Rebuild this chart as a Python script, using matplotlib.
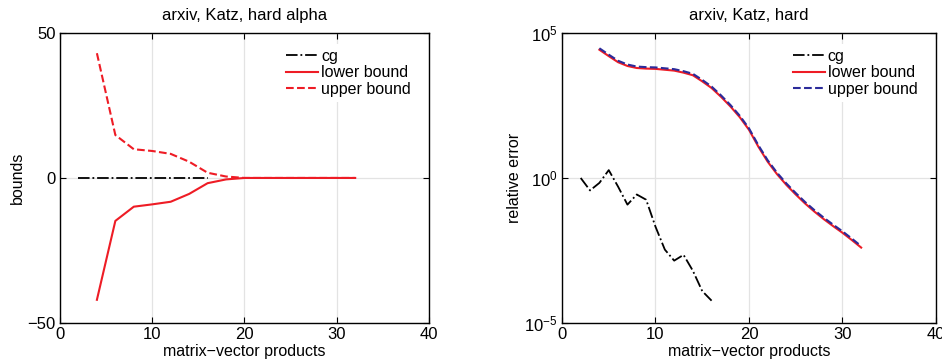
import numpy as np
import matplotlib
matplotlib.use("Agg")
import matplotlib.pyplot as plt

plt.rcParams["font.family"] = ["Liberation Sans", "DejaVu Sans"]
plt.rcParams["font.size"] = 11.5

# left panel: bounds
cg_x_left = list(range(2, 17))
cg_left = [0.0] * len(cg_x_left)
bound_x_left = list(range(4, 33, 2))
lower_left = [-42, -14.8, -9.9, -9.1, -8.2, -5.5, -1.8, -0.5, 0, 0, 0, 0, 0, 0, 0]
upper_left = [43, 14.8, 9.9, 9.3, 8.3, 5.6, 1.8, 0.5, 0, 0, 0, 0, 0, 0, 0]

# right panel: relative error (log10 values)
cg_x_right = list(range(2, 17))
cg_log = [0.0, -0.43, -0.17, 0.27, -0.3, -0.92, -0.57, -0.75, -1.68, -2.47,
          -2.85, -2.65, -3.2, -3.9, -4.23]
bound_x_right = list(range(4, 33))
lower_log = [4.42, 4.2, 3.99, 3.86, 3.79, 3.77, 3.76, 3.73, 3.70, 3.63, 3.54,
             3.33, 3.10, 2.80, 2.47, 2.10, 1.66, 1.08, 0.56, 0.13, -0.24,
             -0.57, -0.88, -1.16, -1.42, -1.66, -1.89, -2.14, -2.40]
upper_offset = 0.05

fig = plt.figure(figsize=(9.42, 3.64), dpi=100)
ax1 = fig.add_axes([0.0637, 0.1126, 0.3917, 0.797])
ax2 = fig.add_axes([0.5966, 0.1126, 0.397, 0.797])

grid_kw = dict(color="#e3e3e3", linewidth=0.9, linestyle="-")

ax1.plot(cg_x_left, cg_left, color="black", linestyle="-.", linewidth=1.3, label="cg")
ax1.plot(bound_x_left, lower_left, color="#ee1c25", linestyle="-", linewidth=1.5, label="lower bound")
ax1.plot(bound_x_left, upper_left, color="#ee1c25", linestyle="--", linewidth=1.5, label="upper bound")
ax1.set_xlim(0, 40)
ax1.set_ylim(-50, 50)
ax1.set_xticks([0, 10, 20, 30, 40])
ax1.set_yticks([-50, 0, 50])
ax1.set_title("arxiv, Katz, hard alpha", pad=9, fontsize=12)
ax1.set_xlabel("matrix\u2212vector products", labelpad=1)
ax1.set_ylabel("bounds", labelpad=2)

cg_right = [10 ** v for v in cg_log]
lower_right = [10 ** v for v in lower_log]
upper_right = [10 ** (v + upper_offset) for v in lower_log]
ax2.semilogy(cg_x_right, cg_right, color="black", linestyle="-.", linewidth=1.3, label="cg")
ax2.semilogy(bound_x_right, lower_right, color="#ee1c25", linestyle="-", linewidth=1.5, label="lower bound")
ax2.semilogy(bound_x_right, upper_right, color="#2b2b9a", linestyle="--", linewidth=1.5, label="upper bound")
ax2.set_xlim(0, 40)
ax2.set_ylim(1e-5, 1e5)
ax2.set_xticks([0, 10, 20, 30, 40])
ax2.set_yticks([1e-5, 1e0, 1e5])
ax2.minorticks_off()
ax2.set_title("arxiv, Katz, hard", pad=9, fontsize=12)
ax2.set_xlabel("matrix\u2212vector products", labelpad=1)
ax2.set_ylabel("relative error", labelpad=2)

for ax in (ax1, ax2):
    ax.grid(True, **grid_kw)
    ax.set_axisbelow(True)
    ax.tick_params(direction="in", top=True, right=True, length=4, width=0.8, pad=3,
                   labelsize=12)
    for s in ax.spines.values():
        s.set_linewidth(1.0)
    leg = ax.legend(loc="upper right", frameon=True, fancybox=False, handlelength=2.0,
                    handletextpad=0.2, borderpad=0.3, labelspacing=0.1,
                    bbox_to_anchor=(0.985, 0.99))
    leg.get_frame().set_edgecolor("none")
    leg.get_frame().set_facecolor("white")
    leg.get_frame().set_alpha(1.0)

fig.savefig("out.png", dpi=100)
